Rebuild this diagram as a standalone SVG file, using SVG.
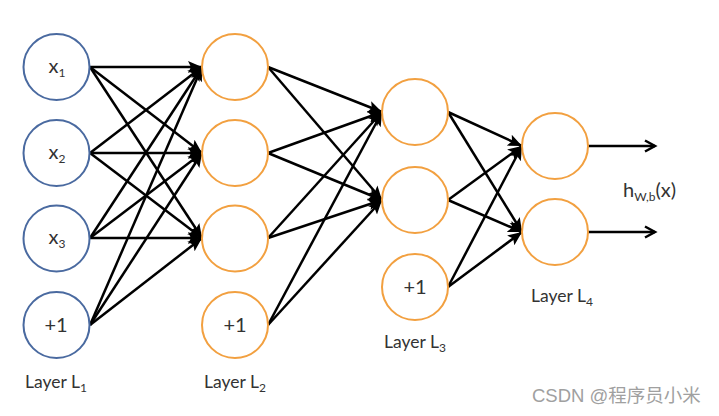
<svg xmlns="http://www.w3.org/2000/svg" width="719" height="416" viewBox="0 0 719 416">
<style>
.in{fill:#fff;stroke:#4a6aa0;stroke-width:2}
.hid{fill:#fff;stroke:#f2a040;stroke-width:2}
.t{font-family:Lato,"Open Sans","Liberation Sans",sans-serif;font-size:17.5px;fill:#333}
.n{font-size:20px}
.s{font-size:12px}
.c line{stroke:#000;stroke-width:2.5;marker-end:url(#ah)}
.o line{stroke:#000;stroke-width:2.5;marker-end:url(#oh)}
</style>
<defs>
<marker id="ah" markerUnits="userSpaceOnUse" markerWidth="16" markerHeight="14" refX="14" refY="6" orient="auto" viewBox="0 0 16 12">
<path d="M0,0 L14,6 L0,12 L3,6 Z" fill="#000"/>
</marker>
<marker id="oh" markerUnits="userSpaceOnUse" markerWidth="16" markerHeight="14" refX="12" refY="6" orient="auto" viewBox="0 0 16 12">
<path d="M2,0.5 L12,6 L2,11.5" fill="none" stroke="#000" stroke-width="2.5"/>
</marker>
</defs>
<rect width="719" height="416" fill="#fff"/>
<g id="connectors">
<g class="c">
<line x1="90" y1="67" x2="202" y2="67"/><line x1="90" y1="67" x2="202" y2="153"/><line x1="90" y1="67" x2="202" y2="238"/>
<line x1="90" y1="153" x2="202" y2="67"/><line x1="90" y1="153" x2="202" y2="153"/><line x1="90" y1="153" x2="202" y2="238"/>
<line x1="90" y1="238" x2="202" y2="67"/><line x1="90" y1="238" x2="202" y2="153"/><line x1="90" y1="238" x2="202" y2="238"/>
<line x1="90" y1="325" x2="202" y2="67"/><line x1="90" y1="325" x2="202" y2="153"/><line x1="90" y1="325" x2="202" y2="238"/>
<line x1="268" y1="67" x2="382" y2="112"/><line x1="268" y1="67" x2="382" y2="200"/>
<line x1="268" y1="153" x2="382" y2="112"/><line x1="268" y1="153" x2="382" y2="200"/>
<line x1="268" y1="238" x2="382" y2="112"/><line x1="268" y1="238" x2="382" y2="200"/>
<line x1="268" y1="325" x2="382" y2="112"/><line x1="268" y1="325" x2="382" y2="200"/>
<line x1="448" y1="112" x2="522" y2="146"/><line x1="448" y1="112" x2="522" y2="232"/>
<line x1="448" y1="200" x2="522" y2="146"/><line x1="448" y1="200" x2="522" y2="232"/>
<line x1="448" y1="287" x2="522" y2="146"/><line x1="448" y1="287" x2="522" y2="232"/>
</g>
<g class="o">
<line x1="588" y1="146" x2="655" y2="146"/><line x1="588" y1="232" x2="655" y2="232"/>
</g>
</g>
<g id="x1"><circle class="in" cx="56.5" cy="67" r="33"/><text class="t n" x="57" y="73" text-anchor="middle">x<tspan class="s" dy="4">1</tspan></text></g>
<g id="x2"><circle class="in" cx="56.5" cy="153" r="33"/><text class="t n" x="57" y="159" text-anchor="middle">x<tspan class="s" dy="4">2</tspan></text></g>
<g id="x3"><circle class="in" cx="56.5" cy="238.5" r="33"/><text class="t n" x="57" y="244" text-anchor="middle">x<tspan class="s" dy="4">3</tspan></text></g>
<g id="b1"><circle class="in" cx="56.5" cy="325" r="33"/><text class="t n" x="56" y="332" text-anchor="middle">+1</text></g>
<g id="h21"><circle class="hid" cx="235" cy="67" r="33"/></g>
<g id="h22"><circle class="hid" cx="235" cy="153" r="33"/></g>
<g id="h23"><circle class="hid" cx="235" cy="238.5" r="33"/></g>
<g id="b2"><circle class="hid" cx="235" cy="325" r="33"/><text class="t n" x="235" y="332" text-anchor="middle">+1</text></g>
<g id="h31"><circle class="hid" cx="415" cy="112" r="33"/></g>
<g id="h32"><circle class="hid" cx="415" cy="200" r="33"/></g>
<g id="b3"><circle class="hid" cx="415" cy="287" r="33"/><text class="t n" x="415" y="294" text-anchor="middle">+1</text></g>
<g id="h41"><circle class="hid" cx="555" cy="146" r="33"/></g>
<g id="h42"><circle class="hid" cx="555" cy="232" r="33"/></g>
<g id="labels">
<text class="t" x="25" y="388">Layer L<tspan class="s" dy="4">1</tspan></text>
<text class="t" x="204" y="388">Layer L<tspan class="s" dy="4">2</tspan></text>
<text class="t" x="384" y="348">Layer L<tspan class="s" dy="4">3</tspan></text>
<text class="t" x="531" y="302">Layer L<tspan class="s" dy="4">4</tspan></text>
<text class="t n" x="623" y="197">h<tspan class="s" dy="4">W,b</tspan><tspan dy="-4">(x)</tspan></text>
<text x="532" y="402" font-family="'Liberation Sans','Noto Sans CJK SC',sans-serif" font-size="18.5" fill="#a0a0a0">CSDN @程序员小米</text>
</g>
</svg>
